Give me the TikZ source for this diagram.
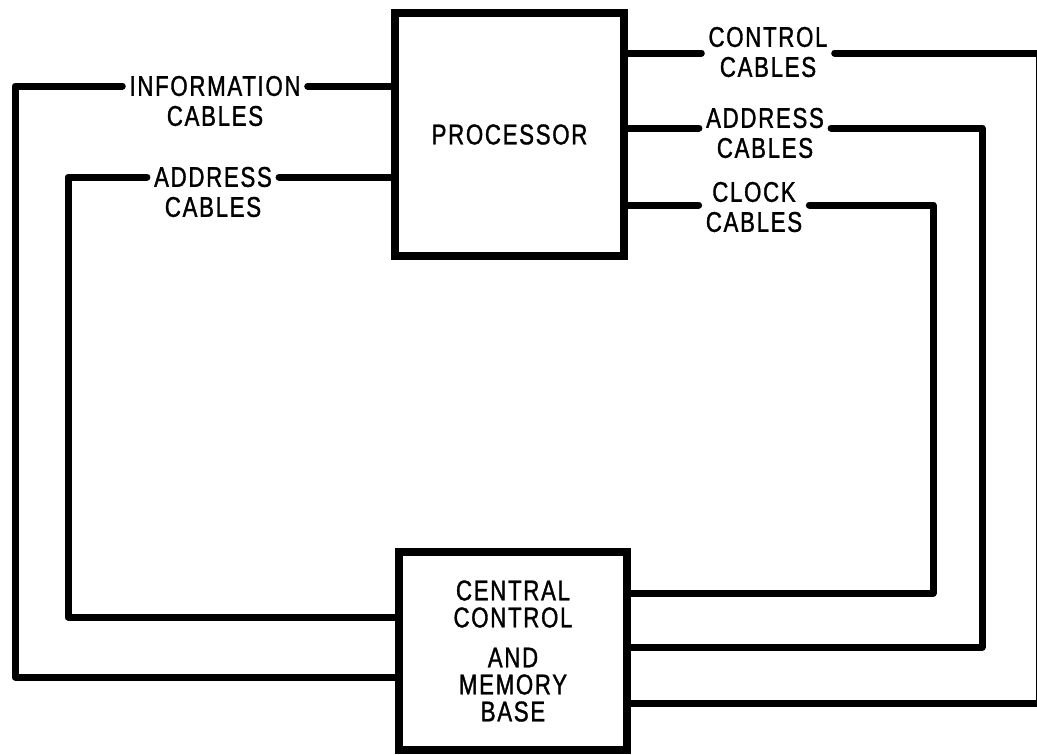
\documentclass[tikz,border=0pt]{standalone}
\usepackage{fontspec}
\setmainfont{Liberation Sans}[FakeStretch=0.78, FakeBold=1.2, LetterSpace=6]
\usetikzlibrary{calc}
\tikzset{
  unitbox/.style  = {draw, line width=7.5pt, align=center, inner sep=0pt},
  cablelab/.style = {align=center, inner xsep=7pt, inner ysep=0pt},
  cable/.style    = {line width=7pt, line cap=round, line join=round},
}
\begin{document}
\begin{tikzpicture}[x=1pt, y=-1pt, every node/.style={font=\fontsize{28.5}{30}\selectfont}]
\useasboundingbox (0,0) rectangle (1037,755);
% units
\node[unitbox, minimum width=229pt, minimum height=243pt] (proc) at (509.5,134.5) {PROCESSOR};
\node[unitbox, minimum width=228pt, minimum height=198pt] (mem) at (513,651)
  {CENTRAL\\[-3pt]CONTROL\\[10pt]AND\\[-3pt]MEMORY\\[-3pt]BASE};

% cable labels
\node[cablelab] (infolab)  at (215,101) {INFORMATION\\CABLES};
\node[cablelab] (laddrlab) at (213,192) {ADDRESS\\CABLES};
\node[cablelab] (ctrllab)  at (768,52)  {CONTROL\\CABLES};
\node[cablelab] (raddrlab) at (765,133) {ADDRESS\\CABLES};
\node[cablelab] (clklab)   at (754,207) {CLOCK\\CABLES};

% corners of the cable runs
\coordinate (infoT)  at (15,86);   \coordinate (infoB)  at (15,677);
\coordinate (laddrT) at (68,177);  \coordinate (laddrB) at (68,617);
\coordinate (ctrlT)  at (1039,53); \coordinate (ctrlB)  at (1039,703);
\coordinate (raddrT) at (982,128); \coordinate (raddrB) at (982,647);
\coordinate (clkT)   at (933,205); \coordinate (clkB)   at (933,593);

% left cables
\draw[cable] (proc.west |- infoT) -- (infolab.east |- infoT);
\draw[cable] (infolab.west |- infoT) -- (infoT) -- (infoB) -- (mem.west |- infoB);
\draw[cable] (proc.west |- laddrT) -- (laddrlab.east |- laddrT);
\draw[cable] (laddrlab.west |- laddrT) -- (laddrT) -- (laddrB) -- (mem.west |- laddrB);

% right cables
\draw[cable] (proc.east |- ctrlT) -- (ctrllab.west |- ctrlT);
\draw[cable] (ctrllab.east |- ctrlT) -- (ctrlT) -- (ctrlB) -- (mem.east |- ctrlB);
\draw[cable] (proc.east |- raddrT) -- (raddrlab.west |- raddrT);
\draw[cable] (raddrlab.east |- raddrT) -- (raddrT) -- (raddrB) -- (mem.east |- raddrB);
\draw[cable] (proc.east |- clkT) -- (clklab.west |- clkT);
\draw[cable] (clklab.east |- clkT) -- (clkT) -- (clkB) -- (mem.east |- clkB);
\end{tikzpicture}
\end{document}
